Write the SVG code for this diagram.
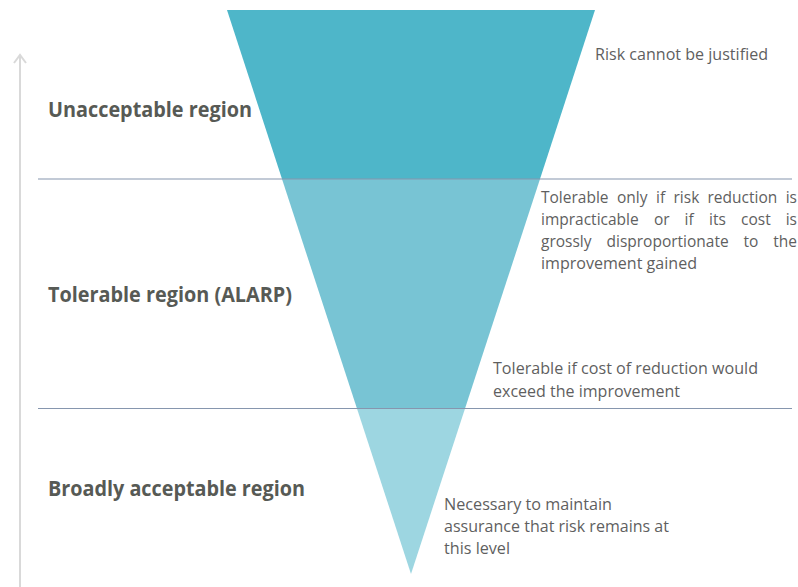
<svg xmlns="http://www.w3.org/2000/svg" width="798" height="587" viewBox="0 0 798 587">
  <defs>
    <style>
      .band-top { fill: #4EB6C9; }
      .band-mid { fill: #78C4D4; }
      .band-low { fill: #9DD6E1; }
      .divider { stroke: #8696AE; stroke-width: 1.2; fill: none; }
      .axis { stroke: #D9D9D9; stroke-width: 2; fill: none; }
      .region { font-family: "Open Sans", "Noto Sans", "Liberation Sans", sans-serif; font-weight: bold; font-size: 21px; fill: #575A55; }
      .note { font-family: "Open Sans", "Noto Sans", "Liberation Sans", sans-serif; font-size: 15.5px; fill: #5F5F5F; }
      .end { text-anchor: end; }
    </style>
  </defs>
  <rect width="798" height="587" fill="#FFFFFF"/>

  <!-- inverted risk triangle, split into three bands -->
  <g id="triangle">
    <polygon class="band-top" points="227,10 595,10 540,179 282,179"/>
    <polygon class="band-mid" points="282,179 540,179 465.2,408 356.8,408"/>
    <polygon class="band-low" points="356.8,408 465.2,408 411,574"/>
  </g>

  <!-- vertical risk axis and region dividers -->
  <g id="connectors">
    <line class="axis" x1="20" y1="587" x2="20" y2="56"/>
    <polyline class="axis" points="14,63 20,55 26,63" stroke-width="1.6"/>
    <line class="divider" x1="38" y1="179" x2="792" y2="179"/>
    <line class="divider" x1="38" y1="408.5" x2="792" y2="408.5"/>
  </g>

  <g id="unacceptable">
    <text class="region" x="48" y="117" textLength="204" lengthAdjust="spacingAndGlyphs">Unacceptable region</text>
    <text class="note" x="595" y="60" textLength="173" lengthAdjust="spacingAndGlyphs">Risk cannot be justified</text>
  </g>

  <g id="tolerable">
    <text class="region" x="48" y="302" textLength="244" lengthAdjust="spacingAndGlyphs">Tolerable region (ALARP)</text>
    <!-- justified paragraph: words spread across 541..797, last word flush right -->
    <text class="note" y="203"><tspan x="541">Tolerable</tspan><tspan x="617">only</tspan><tspan x="656">if</tspan><tspan x="673.5">risk</tspan><tspan x="707.5">reduction</tspan><tspan class="end" x="797">is</tspan></text>
    <text class="note" y="225"><tspan x="541">impracticable</tspan><tspan x="654">or</tspan><tspan x="684.5">if</tspan><tspan x="709">its</tspan><tspan x="741">cost</tspan><tspan class="end" x="797">is</tspan></text>
    <text class="note" y="247"><tspan x="541">grossly</tspan><tspan x="606.5">disproportionate</tspan><tspan x="743.5">to</tspan><tspan class="end" x="797">the</tspan></text>
    <text class="note" x="541" y="269" textLength="156" lengthAdjust="spacingAndGlyphs">improvement gained</text>
    <text class="note" x="493" y="374" textLength="265" lengthAdjust="spacingAndGlyphs">Tolerable if cost of reduction would</text>
    <text class="note" x="493" y="397" textLength="187" lengthAdjust="spacingAndGlyphs">exceed the improvement</text>
  </g>

  <g id="broadly-acceptable">
    <text class="region" x="48" y="496" textLength="257" lengthAdjust="spacingAndGlyphs">Broadly acceptable region</text>
    <text class="note" x="444" y="510" textLength="168" lengthAdjust="spacingAndGlyphs">Necessary to maintain</text>
    <text class="note" x="444" y="532" textLength="225" lengthAdjust="spacingAndGlyphs">assurance that risk remains at</text>
    <text class="note" x="444" y="554" textLength="66" lengthAdjust="spacingAndGlyphs">this level</text>
  </g>
</svg>
